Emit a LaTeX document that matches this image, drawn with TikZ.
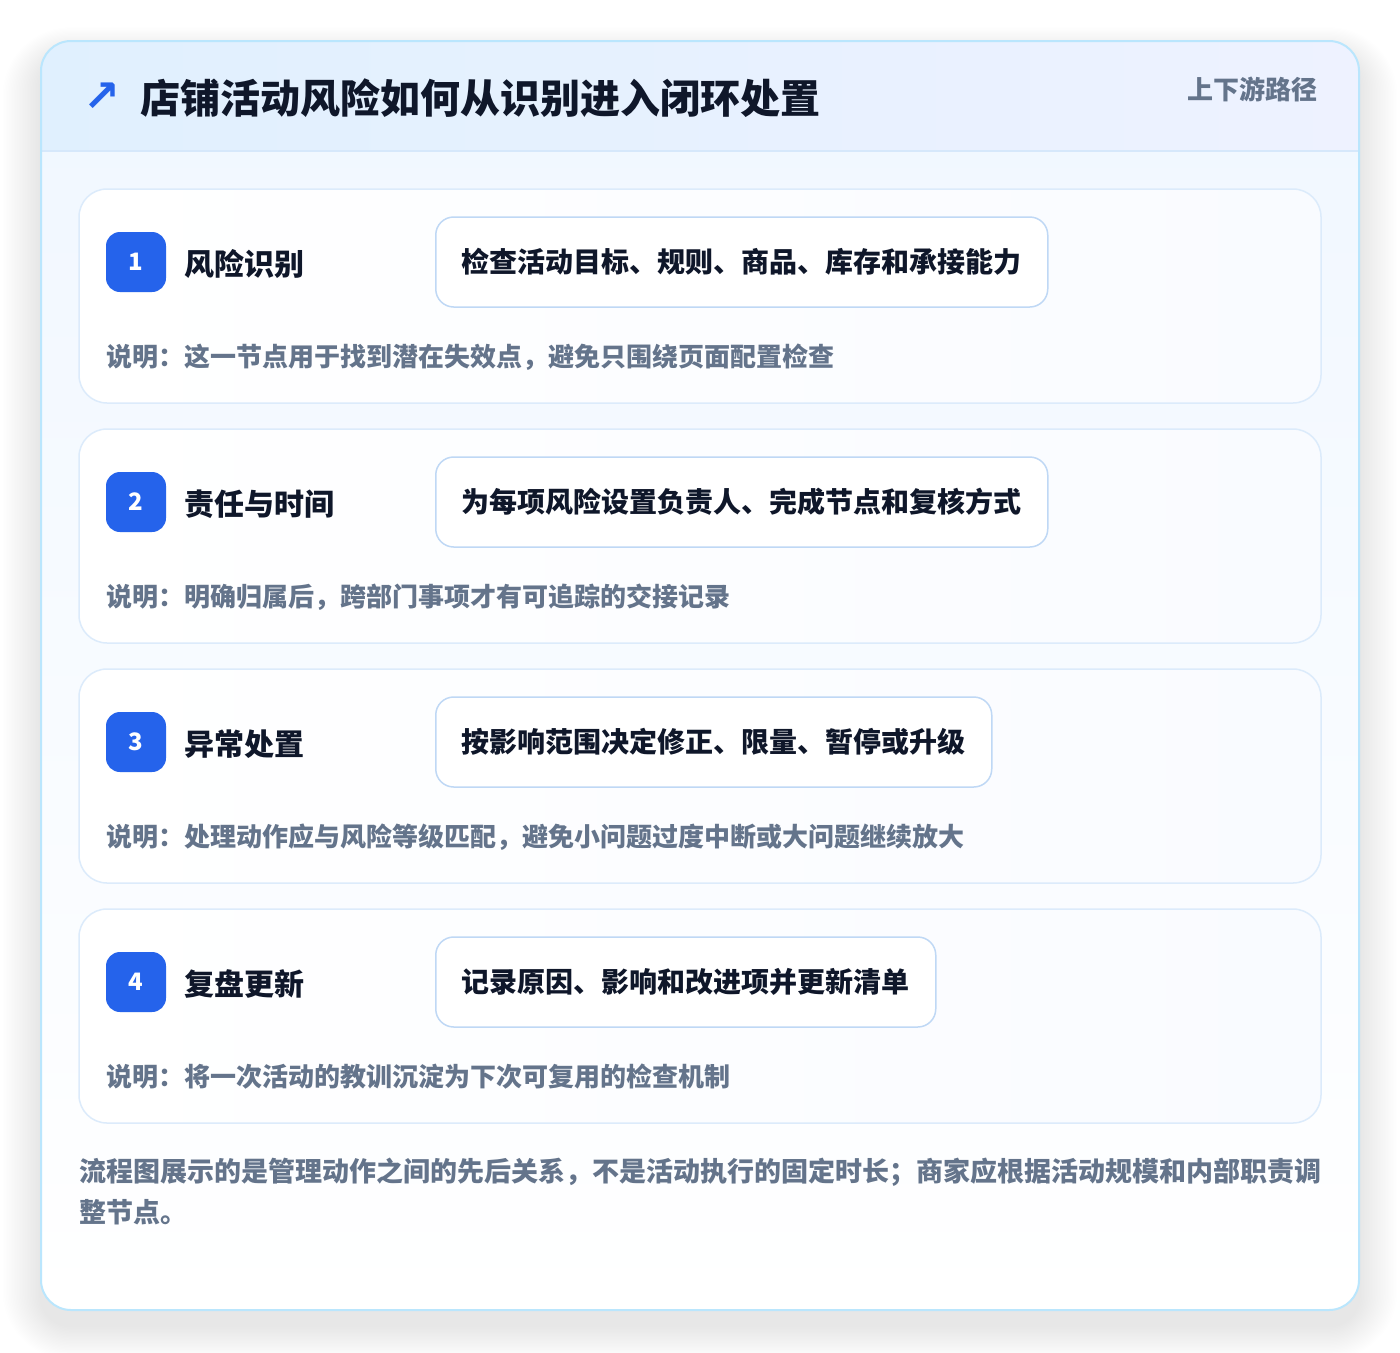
\documentclass[tikz,border=0pt]{standalone}
\usepackage{fontspec}
\setmainfont{Noto Sans CJK SC}
\newfontfamily\symfont{DejaVu Sans}
\definecolor{ink}{HTML}{0F172A}
\definecolor{slate}{HTML}{64748B}
\definecolor{badgeblue}{HTML}{2563EB}
\definecolor{outerborder}{HTML}{BAE6FD}
\definecolor{cardborder}{HTML}{DCEBFB}
\definecolor{actionborder}{HTML}{BFD8F5}
\definecolor{headleft}{HTML}{E0F0FE}
\definecolor{headright}{HTML}{EEF2FF}
\definecolor{headline}{HTML}{D6E8FB}
\definecolor{bodytop}{HTML}{F0F7FF}
\definecolor{cardright}{HTML}{F9FBFF}
\definecolor{shadowc}{HTML}{1E293B}
\tikzset{
  card/.style={draw=cardborder, line width=1.5pt, rounded corners=28pt, left color=white, right color=cardright, minimum width=1242pt, minimum height=214pt, inner sep=0pt},
  badge/.style={fill=badgeblue, rounded corners=14pt, minimum size=60pt, inner sep=0pt, text=white, font=\fontsize{24}{28}\selectfont\bfseries},
  steptitle/.style={anchor=west, inner sep=0pt, text=ink, font=\fontsize{30}{36}\selectfont\bfseries},
  action/.style={anchor=west, draw=actionborder, line width=1.5pt, fill=white, rounded corners=18pt, minimum height=90pt, inner xsep=26pt, inner ysep=0pt, text=ink, font=\fontsize{28}{34}\selectfont\bfseries},
  desc/.style={anchor=west, inner sep=0pt, text=slate, font=\fontsize{26}{32}\selectfont\bfseries},
}
\begin{document}
\begin{tikzpicture}[x=1pt,y=-1pt]
\useasboundingbox (0,0) rectangle (1400,1352);
\fill[white] (0,0) rectangle (1400,1352);
% soft outer shadow
\foreach \i in {1,...,24} {
  \fill[shadowc, opacity=0.0032, rounded corners={30pt+\i*1.6pt}] ({41-\i*1.6},{56-\i*1.2}) rectangle ({1359+\i*1.6},{1326+\i*1.4});
}
% outer card
\path[rounded corners=30pt, top color=bodytop, bottom color=white] (41,41) rectangle (1359,1310);
\begin{scope}
  \clip[rounded corners=30pt] (41,41) rectangle (1359,1310);
  \shade[left color=headleft, right color=headright] (41,41) rectangle (1359,151);
  \draw[headline, line width=1.5pt] (41,151) -- (1359,151);
\end{scope}
\draw[outerborder, line width=2pt, rounded corners=30pt] (41,41) rectangle (1359,1310);
% header
\node[anchor=center, inner sep=0pt, text=badgeblue, font=\symfont\fontsize{44}{50}\selectfont\bfseries] (icon) at (102,97) {↗};
\node[anchor=west, inner sep=0pt, text=ink, font=\fontsize{40}{48}\selectfont\bfseries] (title) at (140,98) {店铺活动风险如何从识别进入闭环处置};
\node[anchor=east, inner sep=0pt, text=slate, font=\fontsize{26}{32}\selectfont\bfseries] (tag) at (1318,89) {上下游路径};
% step 1
\node[card] (card1) at (700,296) {};
\node[badge] (badge1) at (136,262) {1};
\node[steptitle] (title1) at (184,264) {风险识别};
\node[action] (action1) at (435,262) {检查活动目标、规则、商品、库存和承接能力};
\node[desc] (desc1) at (106,357) {说明：这一节点用于找到潜在失效点，避免只围绕页面配置检查};
% step 2
\node[card] (card2) at (700,536) {};
\node[badge] (badge2) at (136,502) {2};
\node[steptitle] (title2) at (184,504) {责任与时间};
\node[action] (action2) at (435,502) {为每项风险设置负责人、完成节点和复核方式};
\node[desc] (desc2) at (106,597) {说明：明确归属后，跨部门事项才有可追踪的交接记录};
% step 3
\node[card] (card3) at (700,776) {};
\node[badge] (badge3) at (136,742) {3};
\node[steptitle] (title3) at (184,744) {异常处置};
\node[action] (action3) at (435,742) {按影响范围决定修正、限量、暂停或升级};
\node[desc] (desc3) at (106,837) {说明：处理动作应与风险等级匹配，避免小问题过度中断或大问题继续放大};
% step 4
\node[card] (card4) at (700,1016) {};
\node[badge] (badge4) at (136,982) {4};
\node[steptitle] (title4) at (184,984) {复盘更新};
\node[action] (action4) at (435,982) {记录原因、影响和改进项并更新清单};
\node[desc] (desc4) at (106,1077) {说明：将一次活动的教训沉淀为下次可复用的检查机制};
% note
\node[anchor=north west, inner sep=0pt, align=left, text=slate, font=\fontsize{27}{41}\selectfont\bfseries] (note) at (79,1158) {流程图展示的是管理动作之间的先后关系，不是活动执行的固定时长；商家应根据活动规模和内部职责调\\整节点。};
\end{tikzpicture}
\end{document}
